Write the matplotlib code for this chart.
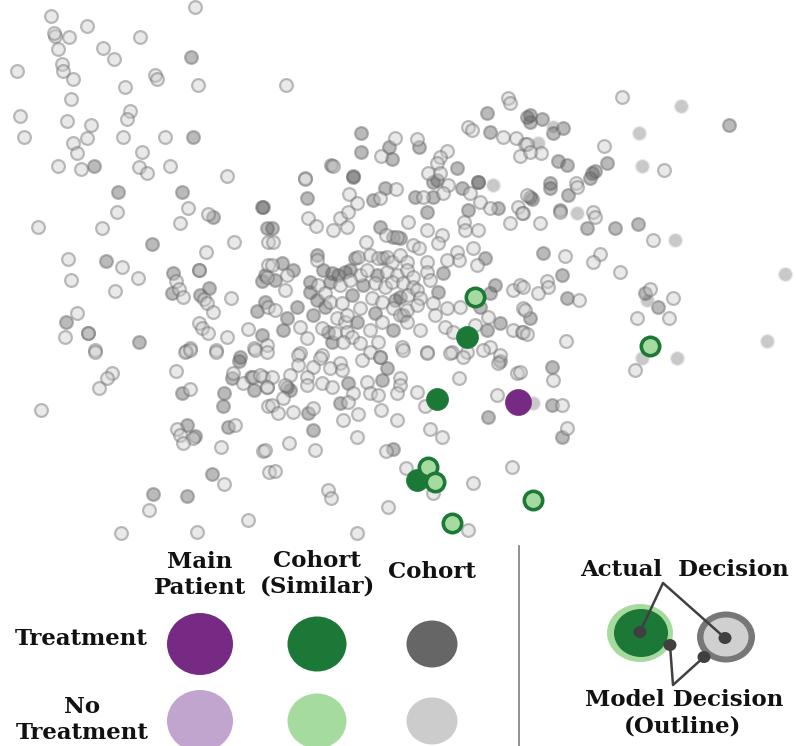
import matplotlib
matplotlib.use("Agg")
import matplotlib.pyplot as plt
from matplotlib.patches import Ellipse

# cohort points (position in the embedding, y grows downwards)
# ring: actual = no treatment, model = treatment
ring_pts = [
    (51, 16), (195, 7), (87, 26), (55, 36), (54, 33), (69, 37), (140, 37), (58, 49), (103, 48),
    (114, 59), (62, 64), (63, 71), (17, 71), (155, 75), (157, 79), (73, 79), (125, 87), (198, 85),
    (71, 99), (130, 111), (127, 119), (20, 116), (67, 121), (91, 125), (24, 137), (123, 137),
    (165, 137), (87, 138), (73, 143), (77, 153), (142, 152), (58, 166), (81, 169), (139, 167),
    (147, 173), (170, 166), (227, 176),
    (286, 85), (395, 138), (417, 139), (381, 156), (447, 151), (440, 157), (437, 163), (333, 166),
    (305, 178), (428, 173), (440, 173), (508, 98), (510, 103), (468, 127), (472, 130), (503, 137),
    (516, 138), (525, 144), (520, 156),
    (622, 97), (604, 146), (664, 170), (527, 144), (541, 153), (530, 152), (576, 183),
    (117, 212), (188, 208), (208, 214), (38, 227), (102, 228), (180, 223), (234, 242), (206, 252),
    (68, 259), (122, 267), (199, 270), (176, 281), (71, 280), (138, 278), (179, 289), (183, 297),
    (115, 291), (204, 299), (207, 303), (231, 298), (213, 312), (77, 313), (199, 323), (202, 328),
    (208, 333), (248, 329), (88, 333), (65, 337), (227, 337), (95, 350), (190, 348), (186, 351),
    (216, 350), (254, 348), (268, 265), (268, 242), (267, 277),
    (305, 179), (448, 185), (349, 194), (357, 203), (380, 198), (396, 189), (423, 197), (443, 193),
    (470, 193), (480, 202), (490, 208), (518, 207), (523, 213), (527, 195), (308, 218), (316, 226),
    (340, 218), (348, 212), (333, 230), (347, 227), (386, 235), (408, 222), (427, 230), (442, 235),
    (464, 222), (465, 230), (478, 230), (510, 223), (273, 242), (397, 237), (366, 242), (413, 245),
    (419, 248), (438, 243), (473, 248), (317, 260), (358, 257), (370, 255), (378, 258), (387, 257),
    (392, 262), (400, 255), (407, 262), (427, 262), (457, 252), (459, 260), (447, 260), (477, 265),
    (272, 265), (287, 275), (360, 275), (367, 270), (387, 272), (397, 275), (407, 270), (413, 277),
    (427, 272), (318, 285), (340, 285), (350, 280), (375, 283), (385, 287), (392, 282), (403, 283),
    (413, 287), (430, 280), (513, 290), (520, 285), (285, 290), (325, 293), (330, 302), (372, 298),
    (382, 302), (408, 295), (417, 290), (420, 298), (268, 307), (275, 310), (342, 303), (360, 308),
    (393, 308), (400, 315), (407, 310), (417, 305), (433, 303), (447, 308), (460, 307), (488, 317),
    (523, 308), (300, 327), (337, 318), (345, 322), (347, 315), (382, 322), (407, 322), (435, 315),
    (445, 327), (453, 332), (475, 325), (513, 330), (522, 332), (322, 328), (335, 333), (347, 332),
    (352, 337), (370, 330), (420, 330), (307, 338), (343, 342), (360, 343), (378, 342), (402, 347),
    (427, 352), (452, 352), (467, 352), (490, 347), (500, 355), (267, 345), (300, 353), (322, 355),
    (370, 352), (380, 357),
    (577, 187), (522, 213), (560, 212), (593, 212), (595, 217), (540, 223), (653, 240), (565, 256),
    (600, 254), (593, 262), (620, 272), (547, 281), (548, 287), (538, 293), (523, 287), (579, 300),
    (650, 289), (673, 298), (637, 318), (669, 318), (525, 310), (523, 332), (527, 334), (566, 341),
    (95, 352), (112, 373), (107, 378), (99, 388), (41, 410), (176, 371), (185, 352), (190, 350),
    (216, 352), (255, 350), (233, 373), (243, 383), (253, 377), (263, 377), (267, 387), (190, 389),
    (268, 406), (177, 429), (180, 435), (193, 438), (183, 443), (235, 425), (221, 447), (263, 451),
    (269, 472), (224, 484), (149, 510), (248, 520), (121, 533), (197, 532),
    (267, 352), (298, 355), (320, 358), (340, 363), (362, 360), (403, 350), (427, 353), (450, 353),
    (463, 357), (483, 350), (498, 363), (517, 373), (298, 365), (313, 367), (330, 368), (342, 370),
    (272, 377), (290, 375), (307, 377), (260, 375), (285, 385), (307, 385), (322, 383), (332, 387),
    (367, 382), (400, 378), (400, 385), (417, 392), (459, 378), (353, 393), (370, 393), (378, 395),
    (397, 393), (267, 387), (283, 398), (272, 405), (278, 413), (293, 412), (313, 408), (348, 402),
    (358, 414), (381, 410), (397, 420), (343, 420), (425, 406), (497, 395), (357, 437), (430, 429),
    (442, 437), (289, 443), (265, 450), (315, 450), (386, 451), (406, 468), (433, 493), (473, 483),
    (512, 467), (275, 471), (328, 490), (331, 498), (388, 507), (468, 530), (357, 533),
    (635, 370), (553, 380), (520, 372), (562, 405), (567, 428),
]

# solid: actual = treatment, model = treatment
solid_pts = [
    (191, 57), (193, 137), (94, 166),
    (361, 133), (419, 147), (389, 147), (361, 152), (392, 159), (457, 168), (353, 176), (487, 113),
    (527, 117), (490, 132), (478, 182), (433, 182), (331, 165),
    (729, 125), (607, 163), (592, 173), (595, 171), (530, 115), (542, 119), (530, 122), (563, 128),
    (553, 133), (558, 161), (567, 165), (550, 183),
    (118, 192), (182, 192), (213, 217), (262, 207), (152, 244), (106, 261), (173, 273), (209, 288),
    (172, 293), (200, 295), (257, 311), (66, 322), (262, 335), (139, 342), (267, 228), (262, 281),
    (240, 357), (88, 333), (199, 270),
    (353, 177), (437, 180), (462, 188), (478, 182), (307, 198), (373, 200), (385, 188), (415, 197),
    (433, 197), (498, 208), (263, 207), (380, 227), (427, 212), (468, 210), (272, 228), (400, 238),
    (317, 255), (485, 258), (282, 263), (293, 270), (265, 275), (275, 280), (323, 270), (332, 273),
    (345, 272), (350, 270), (377, 275), (443, 273), (310, 282), (330, 282), (363, 285), (495, 285),
    (490, 293), (310, 292), (317, 300), (352, 295), (400, 297), (438, 292), (265, 302), (297, 307),
    (325, 307), (375, 313), (480, 307), (500, 323), (287, 318), (313, 315), (357, 322), (487, 330),
    (283, 330), (328, 332), (393, 330), (332, 342), (393, 237), (355, 258), (383, 258), (338, 275),
    (395, 300), (403, 315),
    (550, 188), (590, 178), (568, 195), (530, 197), (532, 199), (587, 228), (615, 228), (638, 224),
    (543, 253), (562, 275), (567, 298), (645, 293), (658, 307), (530, 318), (560, 210),
    (239, 361), (232, 378), (254, 390), (182, 393), (224, 393), (223, 406), (187, 425), (228, 427),
    (212, 474), (153, 494), (187, 496), (195, 436), (251, 377),
    (380, 357), (387, 368), (290, 390), (348, 383), (382, 380), (308, 413), (340, 403), (488, 417),
    (313, 430), (393, 449), (500, 361), (287, 387),
    (552, 367), (552, 405), (562, 437),
]

# faded: actual = treatment, model = no treatment
faded_pts = [
    (681, 106), (639, 133), (642, 166), (553, 127), (538, 143), (493, 185),
    (577, 213), (675, 240), (785, 274), (647, 300), (767, 341), (642, 358), (677, 358), (533, 403),
]

similar_ring_pts = [(475, 297), (650, 346), (428, 467), (435, 482), (533, 500), (452, 523)]
similar_solid_pts = [(467, 337), (437, 399), (417, 480)]
main_patient = [(518, 402)]

row_labels = ["Treatment", "No\nTreatment"]
col_labels = ["Main\nPatient", "Cohort\n(Similar)", "Cohort"]

PURPLE, LPURPLE = "#762a83", "#c2a5cf"
GREEN, LGREEN = "#1b7837", "#a6dba0"
GRAY, LGRAY = "#666666", "#cccccc"


def xy(pts):
    return [p[0] for p in pts], [p[1] for p in pts]


fig = plt.figure(figsize=(7.96, 7.46), dpi=100)
ax = fig.add_axes([0, 0, 1, 1])
ax.set_xlim(0, 796)
ax.set_ylim(746, 0)
ax.axis("off")

# scatter
x, y = xy(solid_pts)
ax.scatter(x, y, s=85, c=GRAY, edgecolors=GRAY, linewidths=1.6, alpha=0.45)
x, y = xy(faded_pts)
ax.scatter(x, y, s=85, c=GRAY, edgecolors=LGRAY, linewidths=1.8, alpha=0.35)
x, y = xy(ring_pts)
ax.scatter(x, y, s=85, c=LGRAY, edgecolors=GRAY, linewidths=1.6, alpha=0.42)
x, y = xy(similar_solid_pts)
ax.scatter(x, y, s=250, c=GREEN, edgecolors=GREEN, linewidths=0.5)
x, y = xy(similar_ring_pts)
ax.scatter(x, y, s=175, c=LGREEN, edgecolors=GREEN, linewidths=2.6)
x, y = xy(main_patient)
ax.scatter(x, y, s=350, c=PURPLE, edgecolors=PURPLE, linewidths=0.5)

# legend grid
font = dict(family="DejaVu Serif", fontweight="bold", fontsize=16.5, color="#111111")
col_x = [200, 317, 432]
ax.text(col_x[0], 575, col_labels[0], ha="center", va="center", linespacing=1.2, **font)
ax.text(col_x[1], 574, col_labels[1], ha="center", va="center", linespacing=1.2, **font)
ax.text(col_x[2], 572, col_labels[2], ha="center", va="center", **font)
ax.text(81, 639, row_labels[0], ha="center", va="center", **font)
ax.text(82, 720, row_labels[1], ha="center", va="center", linespacing=1.2, **font)

sizes = [(66, 62), (59, 55), (51, 47)]
rows = [(644, [PURPLE, GREEN, GRAY]), (721, [LPURPLE, LGREEN, LGRAY])]
for ry, colors in rows:
    for cx, (w, h), col in zip(col_x, sizes, colors):
        ax.add_patch(Ellipse((cx, ry), w, h, facecolor=col, edgecolor="none"))

ax.plot([519, 519], [546, 746], color="#888888", lw=1.3)

# outline explanation
ax.text(685, 570, "Actual  Decision", ha="center", va="center", **font)
ax.text(684, 700, "Model Decision", ha="center", va="center", **font)
ax.text(683, 727, "(Outline)", ha="center", va="center", **font)

ax.add_patch(Ellipse((640, 633), 66, 58, facecolor=LGREEN, edgecolor="none"))
ax.add_patch(Ellipse((641, 633), 54, 48, facecolor=GREEN, edgecolor="none"))
ax.add_patch(Ellipse((726, 637), 58, 51, facecolor="#777777", edgecolor="none"))
ax.add_patch(Ellipse((726, 637), 45, 39, facecolor="#d0d0d0", edgecolor="none"))

ax.plot([640, 663, 725], [632, 583, 638], color="#404040", lw=1.8)
ax.plot([670, 673, 704], [645, 685, 657], color="#404040", lw=1.8)
for dx, dy in [(640, 632), (670, 645), (725, 638), (704, 657)]:
    ax.add_patch(Ellipse((dx, dy), 13, 12, facecolor="#404040", edgecolor="none"))

fig.savefig("out.png", dpi=100)
